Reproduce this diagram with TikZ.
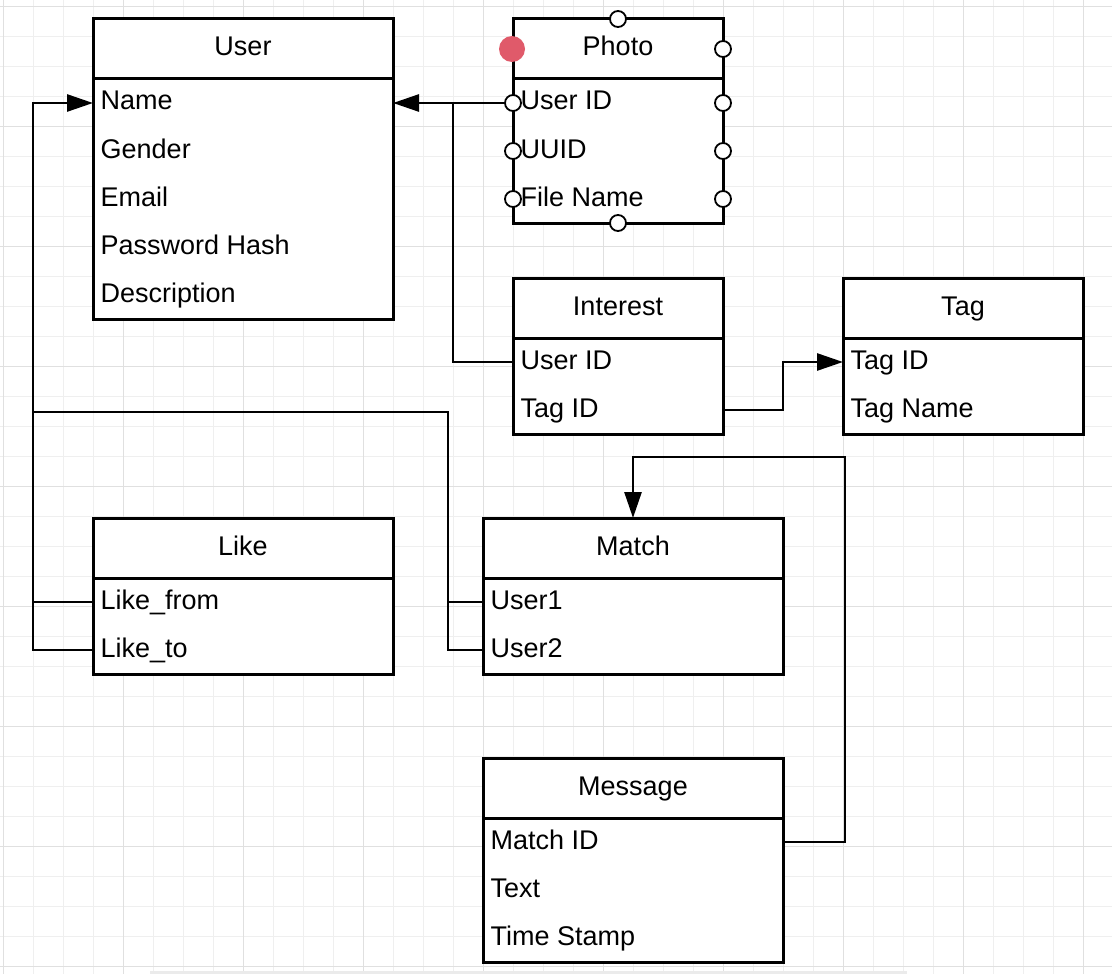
\documentclass[tikz,border=0pt]{standalone}
\usepackage{fontspec}
\setmainfont{Liberation Sans}
\usetikzlibrary{arrows.meta,calc}
\definecolor{gridminor}{HTML}{EFEFEF}
\definecolor{gridmajor}{HTML}{E0E0E0}
\definecolor{gridbar}{HTML}{EBEBEB}
\definecolor{dotred}{HTML}{E05A6A}
\tikzset{
  entity/.style={draw=black, line width=3pt, fill=white, anchor=north west, inner sep=0pt, outer sep=0pt},
  divider/.style={draw=black, line width=3pt},
  ttl/.style={inner sep=0pt, text height=19pt, text depth=5pt},
  field/.style={anchor=west, inner sep=0pt, text height=19pt, text depth=5pt},
  conn/.style={draw=black, line width=2.7pt},
  arr/.style={-{Triangle[length=26pt,width=17pt]}},
  port/.style={circle, draw=black, line width=1.8pt, fill=white, minimum size=16pt, inner sep=0pt},
  reddot/.style={circle, fill=dotred, minimum size=26pt, inner sep=0pt}
}
\begin{document}
\begin{tikzpicture}[x=1pt,y=-1pt,font=\fontsize{27pt}{32pt}\selectfont]
\useasboundingbox (0,0) rectangle (1112,974);
\fill[white] (0,0) rectangle (1112,974);
% grid
\foreach \i in {0,...,37} {
  \draw[gridminor, line width=1pt] ({3.3+30*\i},0) -- ({3.3+30*\i},974);
}
\foreach \i in {0,...,32} {
  \draw[gridminor, line width=1pt] (0,{6.7+30*\i}) -- (1112,{6.7+30*\i});
}
\foreach \i in {0,...,9} {
  \draw[gridmajor, line width=1.2pt] ({3.3+120*\i},0) -- ({3.3+120*\i},974);
}
\foreach \i in {0,...,8} {
  \draw[gridmajor, line width=1.2pt] (0,{6.7+120*\i}) -- (1112,{6.7+120*\i});
}
\fill[gridbar] (150,971) rectangle (907,974);

% ---------- entities ----------
% User
\node[entity, minimum width=300pt, minimum height=300pt] (user) at (93,19) {};
\draw[divider] ([yshift=-60pt]user.north west) -- ([yshift=-60pt]user.north east);
\node[ttl] (userT) at ([yshift=-30pt]user.north) {User};
\node[field] (uname) at ([xshift=7.5pt,yshift=-84pt]user.north west) {Name};
\node[field] (ugender) at ([xshift=7.5pt,yshift=-132pt]user.north west) {Gender};
\node[field] (uemail) at ([xshift=7.5pt,yshift=-180pt]user.north west) {Email};
\node[field] (upass) at ([xshift=7.5pt,yshift=-228pt]user.north west) {Password Hash};
\node[field] (udesc) at ([xshift=7.5pt,yshift=-276pt]user.north west) {Description};

% Photo
\node[entity, minimum width=210pt, minimum height=204pt] (photo) at (513,19) {};
\draw[divider] ([yshift=-60pt]photo.north west) -- ([yshift=-60pt]photo.north east);
\node[ttl] (photoT) at ([yshift=-30pt]photo.north) {Photo};
\node[field] (puid) at ([xshift=7.5pt,yshift=-84pt]photo.north west) {User ID};
\node[field] (puuid) at ([xshift=7.5pt,yshift=-132pt]photo.north west) {UUID};
\node[field] (pfile) at ([xshift=7.5pt,yshift=-180pt]photo.north west) {File Name};

% Interest
\node[entity, minimum width=210pt, minimum height=156pt] (interest) at (513,278) {};
\draw[divider] ([yshift=-60pt]interest.north west) -- ([yshift=-60pt]interest.north east);
\node[ttl] (interestT) at ([yshift=-30pt]interest.north) {Interest};
\node[field] (iuid) at ([xshift=7.5pt,yshift=-84pt]interest.north west) {User ID};
\node[field] (itag) at ([xshift=7.5pt,yshift=-132pt]interest.north west) {Tag ID};

% Tag
\node[entity, minimum width=240pt, minimum height=156pt] (tag) at (843,278) {};
\draw[divider] ([yshift=-60pt]tag.north west) -- ([yshift=-60pt]tag.north east);
\node[ttl] (tagT) at ([yshift=-30pt]tag.north) {Tag};
\node[field] (tid) at ([xshift=7.5pt,yshift=-84pt]tag.north west) {Tag ID};
\node[field] (tname) at ([xshift=7.5pt,yshift=-132pt]tag.north west) {Tag Name};

% Like
\node[entity, minimum width=300pt, minimum height=156pt] (like) at (93,518) {};
\draw[divider] ([yshift=-60pt]like.north west) -- ([yshift=-60pt]like.north east);
\node[ttl] (likeT) at ([yshift=-30pt]like.north) {Like};
\node[field] (lfrom) at ([xshift=7.5pt,yshift=-84pt]like.north west) {Like\_from};
\node[field] (lto) at ([xshift=7.5pt,yshift=-132pt]like.north west) {Like\_to};

% Match
\node[entity, minimum width=300pt, minimum height=156pt] (match) at (483,518) {};
\draw[divider] ([yshift=-60pt]match.north west) -- ([yshift=-60pt]match.north east);
\node[ttl] (matchT) at ([yshift=-30pt]match.north) {Match};
\node[field] (mu1) at ([xshift=7.5pt,yshift=-84pt]match.north west) {User1};
\node[field] (mu2) at ([xshift=7.5pt,yshift=-132pt]match.north west) {User2};

% Message
\node[entity, minimum width=300pt, minimum height=204pt] (message) at (483,758) {};
\draw[divider] ([yshift=-60pt]message.north west) -- ([yshift=-60pt]message.north east);
\node[ttl] (messageT) at ([yshift=-30pt]message.north) {Message};
\node[field] (mmid) at ([xshift=7.5pt,yshift=-84pt]message.north west) {Match ID};
\node[field] (mtext) at ([xshift=7.5pt,yshift=-132pt]message.north west) {Text};
\node[field] (mstamp) at ([xshift=7.5pt,yshift=-180pt]message.north west) {Time Stamp};

% ---------- connectors ----------
\coordinate (j1) at (453,103);
\coordinate (lbus) at (33,602);
\coordinate (jm) at (33,412);
\coordinate (mbus) at (448,602);

\draw[conn, arr] (photo.west |- puid.west) -- (user.east |- puid.west);
\draw[conn] (interest.west |- iuid.west) -| (j1);
\draw[conn, arr] (interest.east |- itag.west) -- ++(60,0) |- (tag.west |- tid.west);
\draw[conn, arr] (like.west |- lfrom.west) -- ++(-60,0) |- (user.west |- uname.west);
\draw[conn] (like.west |- lto.west) -| (lbus);
\draw[conn] (match.west |- mu1.west) -- ++(-35,0) |- (jm);
\draw[conn] (match.west |- mu2.west) -| (mbus);
\draw[conn, arr] (message.east |- mmid.west) -- ++(62,0) |- ([yshift=61pt]match.north) -- (match.north);

% ---------- photo ports ----------
\node[port] (pp1) at (photo.north) {};
\node[port] (pp2) at (photo.south) {};
\node[port] (pp3) at (photo.west |- puid.west) {};
\node[port] (pp4) at (photo.west |- puuid.west) {};
\node[port] (pp5) at (photo.west |- pfile.west) {};
\node[port] (pp6) at ([yshift=-30pt]photo.north east) {};
\node[port] (pp7) at (photo.east |- puid.west) {};
\node[port] (pp8) at (photo.east |- puuid.west) {};
\node[port] (pp9) at (photo.east |- pfile.west) {};
\node[reddot] (sel) at ([xshift=-1pt,yshift=-30pt]photo.north west) {};
\end{tikzpicture}
\end{document}
